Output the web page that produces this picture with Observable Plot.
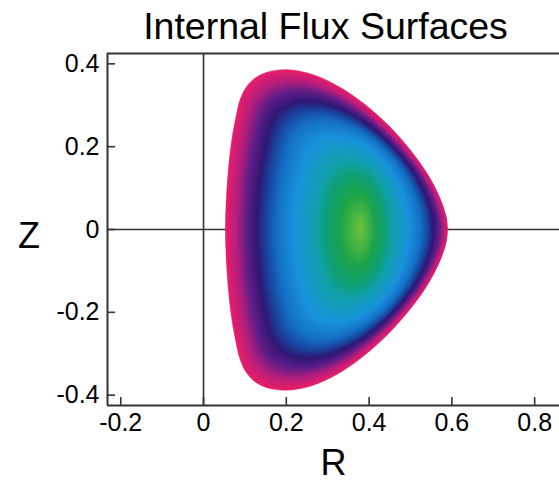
<!DOCTYPE html>
<html><head><meta charset="utf-8">
<script src="https://cdn.jsdelivr.net/npm/d3@7"></script>
<script src="https://cdn.jsdelivr.net/npm/@observablehq/plot@0.6"></script>
<style>body{margin:0;background:#fff;} svg{display:block}</style>
</head><body><div id="chart"></div>
<script>
const title = "Internal Flux Surfaces";
const xLabel = "R";
const yLabel = "Z";
const xTicks = [-0.2, 0, 0.2, 0.4, 0.6, 0.8];
const yTicks = [-0.4, -0.2, 0, 0.2, 0.4];
const xDomain = [-0.232, 0.86];
const yDomain = [-0.425, 0.425];
// magnetic axis (centre of the nested surfaces)
const axisR = 0.38;
const axisZ = 0;
// last closed flux surface
const boundaryR = [0.589, 0.586, 0.570, 0.540, 0.500, 0.447, 0.387, 0.335, 0.285, 0.243, 0.198, 0.154, 0.125, 0.104, 0.089, 0.077, 0.067, 0.060, 0.055, 0.053,
                   0.055, 0.060, 0.067, 0.077, 0.089, 0.104, 0.125, 0.154, 0.198, 0.243, 0.285, 0.335, 0.387, 0.447, 0.500, 0.540, 0.570, 0.586];
const boundaryZ = [0, 0.030, 0.078, 0.135, 0.191, 0.251, 0.304, 0.340, 0.366, 0.380, 0.386, 0.380, 0.366, 0.345, 0.315, 0.265, 0.207, 0.143, 0.070, 0,
                   -0.070, -0.143, -0.207, -0.265, -0.315, -0.346, -0.368, -0.382, -0.388, -0.382, -0.368, -0.342, -0.305, -0.251, -0.191, -0.135, -0.078, -0.030];
// shape of the innermost surfaces (half-widths inboard / outboard, half-height)
const coreInboard = 0.327, coreOutboard = 0.209, coreHalfHeight = 0.5;
// colour of a surface vs its normalised size (0 = axis, 1 = boundary)
const levelStops  = [0, 0.15, 0.25, 0.33, 0.50, 0.62, 0.70, 0.77, 0.846, 0.92, 1];
const levelColors = ["#6ec33c", "#1ea54b", "#0fa073", "#0fa0aa", "#1991dc", "#1470c4", "#1946a0", "#301873", "#5f1e87", "#b41e7d", "#e81e69"];
const nLevels = 160;
const outboardCrowding = 0.5;  // surfaces crowd toward the outboard edge
const coreElongation = 0.3;    // inner surfaces are taller than the boundary

const rows = [];
for (let k = 0; k < nLevels; ++k) {
  const t = 1 - k / nLevels;
  const w = Math.pow(1 - t, 1.5);
  const g = 1 + coreElongation * (1 - t) * (1 - t);
  for (let i = 0; i < boundaryR.length; ++i) {
    const dR = boundaryR[i] - axisR, dZ = boundaryZ[i] - axisZ;
    const phi = Math.atan2(dZ, dR);
    const eR = (dR > 0 ? coreOutboard : coreInboard) * Math.cos(phi);
    const eZ = coreHalfHeight * Math.sin(phi);
    const c = (1 + Math.cos(phi)) / 2;
    const r = t + outboardCrowding * c * c * t * t * (1 - t);
    rows.push({R: axisR + r * ((1 - w) * dR + w * eR), Z: axisZ + r * g * ((1 - w) * dZ + w * eZ), t, k});
  }
}

const ink = "#333";
const chart = Plot.plot({
  width: 559, height: 482,
  marginLeft: 107, marginRight: 0, marginTop: 53, marginBottom: 77,
  x: {domain: xDomain},
  y: {domain: yDomain},
  color: {type: "linear", domain: levelStops, range: levelColors, interpolate: "rgb"},
  style: {fontFamily: "'Liberation Sans', Arial, sans-serif", background: "#fff", color: "#000"},
  marks: [
    Plot.ruleX([0], {stroke: ink, strokeWidth: 1.6}),
    Plot.ruleY([0], {stroke: ink, strokeWidth: 1.6}),
    Plot.line(rows, {x: "R", y: "Z", z: "k", fill: "t", stroke: "t", strokeWidth: 0.6, curve: "catmull-rom-closed"}),
    Plot.ruleX([xDomain[0]], {stroke: ink, strokeWidth: 2}),
    Plot.ruleY(yDomain, {stroke: ink, strokeWidth: 2}),
    Plot.axisX(xTicks, {anchor: "bottom", tickSize: -8, tickPadding: 16, fontSize: 25, stroke: ink, strokeWidth: 1.6, label: null, tickFormat: d => String(d)}),
    Plot.axisY(yTicks, {anchor: "left", tickSize: -8, tickPadding: 16, fontSize: 25, stroke: ink, strokeWidth: 1.6, label: null, tickFormat: d => String(d)}),
    Plot.text([title], {text: d => d, frameAnchor: "top", dx: -8, dy: -41, fontSize: 37.5, fill: "#000"}),
    Plot.text([xLabel], {text: d => d, frameAnchor: "bottom", dy: 69, fontSize: 36, fill: "#000"}),
    Plot.text([yLabel], {text: d => d, frameAnchor: "left", textAnchor: "middle", dx: -78.5, dy: 7, fontSize: 36, fill: "#000"})
  ]
});
document.getElementById("chart").appendChild(chart);
</script>
</body></html>
